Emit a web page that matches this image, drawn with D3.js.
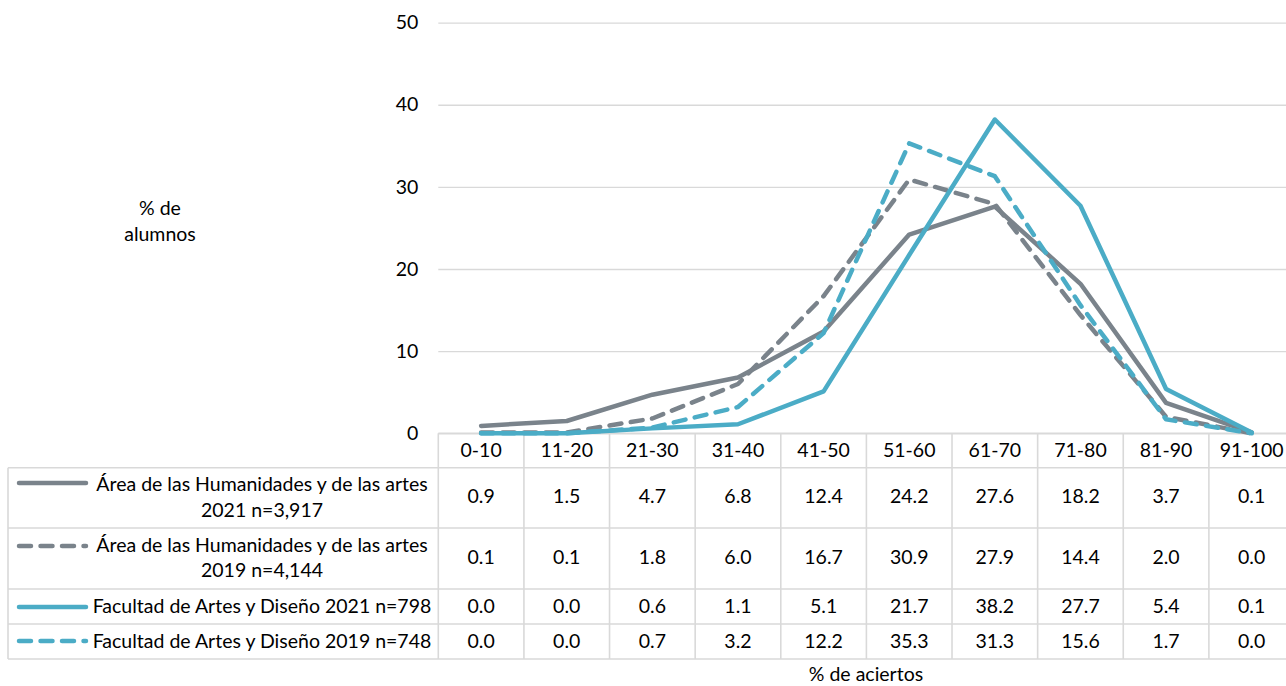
<!DOCTYPE html>
<html>
<head>
<meta charset="utf-8">
<script src="https://cdn.jsdelivr.net/npm/d3@7"></script>
<style>
  html, body { margin: 0; padding: 0; background: #fff; }
  #chart { width: 1286px; height: 686px; overflow: hidden; }
  text { font-family: Lato, "Open Sans", sans-serif; fill: #000; }
</style>
</head>
<body>
<div id="chart"></div>
<script>
// data
const categories = ["0-10", "11-20", "21-30", "31-40", "41-50", "51-60", "61-70", "71-80", "81-90", "91-100"];
const seriesLabels = [
  ["Área de las Humanidades y de las artes", "2021 n=3,917"],
  ["Área de las Humanidades y de las artes", "2019 n=4,144"],
  ["Facultad de Artes y Diseño 2021 n=798"],
  ["Facultad de Artes y Diseño 2019 n=748"]
];
const humanidades2021 = [0.9, 1.5, 4.7, 6.8, 12.4, 24.2, 27.6, 18.2, 3.7, 0.1];
const humanidades2019 = [0.1, 0.1, 1.8, 6.0, 16.7, 30.9, 27.9, 14.4, 2.0, 0.0];
const facultad2021 = [0.0, 0.0, 0.6, 1.1, 5.1, 21.7, 38.2, 27.7, 5.4, 0.1];
const facultad2019 = [0.0, 0.0, 0.7, 3.2, 12.2, 35.3, 31.3, 15.6, 1.7, 0.0];
const yTicks = [0, 10, 20, 30, 40, 50];

const gray = "#7a838b";
const blue = "#4bacc6";
const series = [
  { label: seriesLabels[0], values: humanidades2021, color: gray, dash: null },
  { label: seriesLabels[1], values: humanidades2019, color: gray, dash: "12,9.5" },
  { label: seriesLabels[2], values: facultad2021, color: blue, dash: null },
  { label: seriesLabels[3], values: facultad2019, color: blue, dash: "12,9.5" }
];

const width = 1286, height = 686;
const plotLeft = 438.3, plotRight = 1294.5, plotTop = 22.6, plotBottom = 433.3;
const tableLeft = 8;
const rowEdges = [433.3, 467.7, 528, 589, 624, 659];
const gridColor = "#d9d9d9";
const fs = 19.5;

const svg = d3.select("#chart").append("svg")
  .attr("width", width)
  .attr("height", height);

const x = d3.scaleBand().domain(categories).range([plotLeft, plotRight]);
const y = d3.scaleLinear().domain([0, 50]).range([plotBottom, plotTop]);

// gridlines + y labels
const yAxis = svg.append("g")
  .attr("transform", `translate(${plotLeft},0)`)
  .call(d3.axisLeft(y).tickValues(yTicks).tickSize(-(plotRight - plotLeft)).tickPadding(20));
yAxis.select(".domain").remove();
yAxis.selectAll(".tick line").attr("stroke", gridColor).attr("stroke-width", 1.4);
yAxis.selectAll(".tick text")
  .attr("font-size", fs)
  .attr("font-family", "Lato, 'Open Sans', sans-serif")
  .attr("fill", "#000");

// axis title
svg.append("text")
  .attr("x", 160).attr("y", 215)
  .attr("text-anchor", "middle")
  .attr("font-size", fs)
  .text("% de");
svg.append("text")
  .attr("x", 160).attr("y", 241)
  .attr("text-anchor", "middle")
  .attr("font-size", fs)
  .text("alumnos");

// data table
const table = svg.append("g");
// horizontal lines
rowEdges.forEach((ry, i) => {
  table.append("line")
    .attr("x1", i === 0 ? plotLeft : tableLeft)
    .attr("x2", plotRight)
    .attr("y1", ry).attr("y2", ry)
    .attr("stroke", gridColor).attr("stroke-width", 1.6);
});
// vertical lines
table.append("line")
  .attr("x1", tableLeft).attr("x2", tableLeft)
  .attr("y1", rowEdges[1]).attr("y2", rowEdges[5])
  .attr("stroke", gridColor).attr("stroke-width", 1.6);
categories.forEach(c => {
  table.append("line")
    .attr("x1", x(c)).attr("x2", x(c))
    .attr("y1", rowEdges[0]).attr("y2", rowEdges[5])
    .attr("stroke", gridColor).attr("stroke-width", 1.6);
});

// header
table.selectAll(".hdr").data(categories).join("text")
  .attr("class", "hdr")
  .attr("x", d => x(d) + x.bandwidth() / 2)
  .attr("y", 457)
  .attr("text-anchor", "middle")
  .attr("font-size", fs)
  .text(d => d);

// cell values and legend keys
const valueBaselines = [503, 564, 613, 648];
const labelBaselines = [[491, 517], [552, 577], [613], [648]];
const keyY = [483, 546, 607, 641];

series.forEach((s, i) => {
  table.selectAll(`.val${i}`).data(s.values).join("text")
    .attr("class", `val${i}`)
    .attr("x", (d, j) => x(categories[j]) + x.bandwidth() / 2)
    .attr("y", valueBaselines[i])
    .attr("text-anchor", "middle")
    .attr("font-size", fs)
    .text(d => d.toFixed(1));

  table.append("line")
    .attr("x1", 19).attr("x2", 86)
    .attr("y1", keyY[i]).attr("y2", keyY[i])
    .attr("stroke", s.color)
    .attr("stroke-width", 4.5)
    .attr("stroke-linecap", "round")
    .attr("stroke-dasharray", s.dash);

  s.label.forEach((t, k) => {
    table.append("text")
      .attr("x", 262)
      .attr("y", labelBaselines[i][k])
      .attr("text-anchor", "middle")
      .attr("font-size", fs)
      .text(t);
  });
});

// lines
const line = d3.line()
  .x((d, j) => x(categories[j]) + x.bandwidth() / 2)
  .y(d => y(d));

svg.append("g").selectAll("path").data(series).join("path")
  .attr("d", d => line(d.values))
  .attr("fill", "none")
  .attr("stroke", d => d.color)
  .attr("stroke-width", 4.5)
  .attr("stroke-linejoin", "round")
  .attr("stroke-linecap", "round")
  .attr("stroke-dasharray", d => d.dash);

// x title
svg.append("text")
  .attr("x", 866).attr("y", 681)
  .attr("text-anchor", "middle")
  .attr("font-size", fs)
  .text("% de aciertos");
</script>
</body>
</html>
